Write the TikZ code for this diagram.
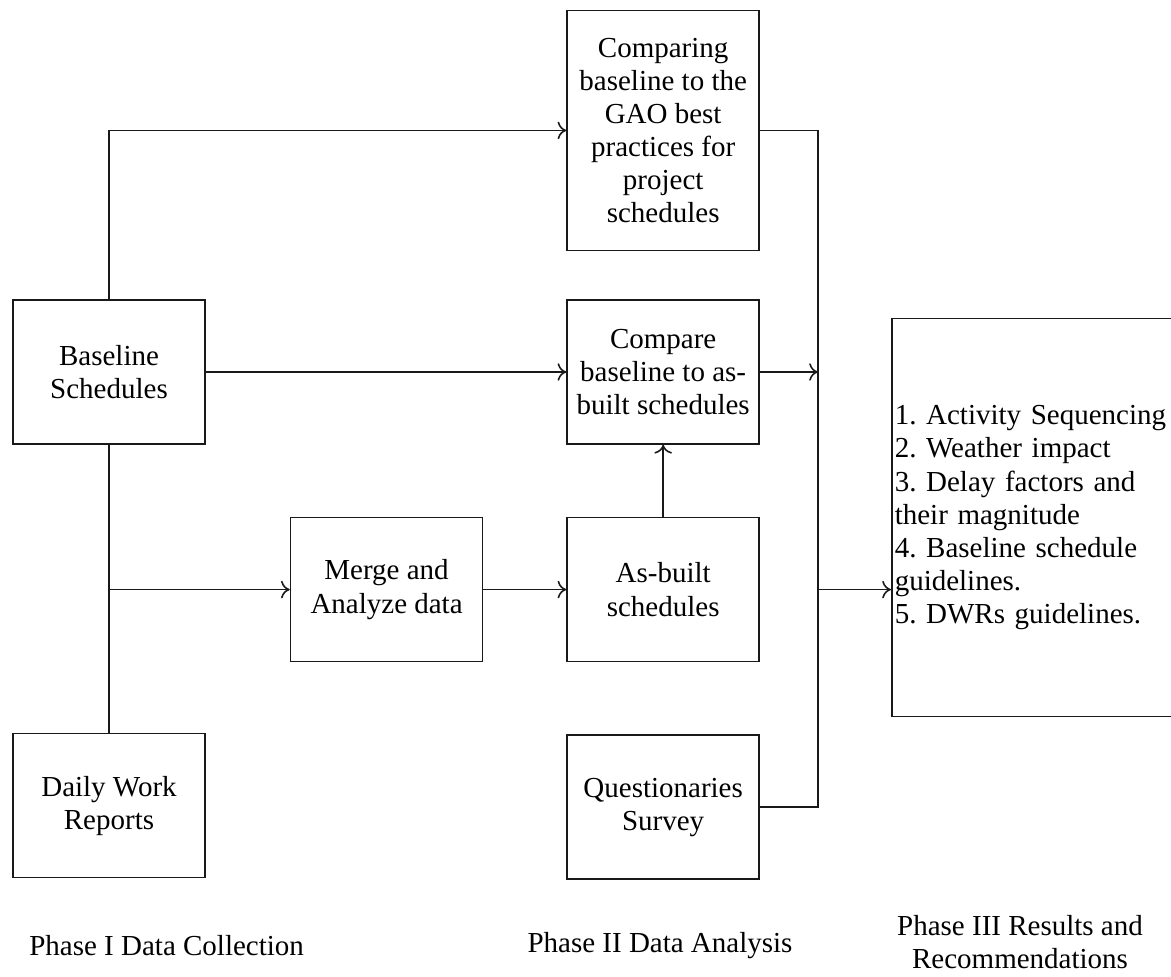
\documentclass[tikz,border=0pt]{standalone}
\usepackage{fontspec}
\setmainfont{Liberation Serif}
\usetikzlibrary{arrows.meta, positioning, calc}
\frenchspacing
\tikzset{
    stage/.style={
        rectangle, draw=black!90, line width=0.9pt,
        minimum width=3.84cm, minimum height=2.88cm,
        font=\fontsize{16.5}{18.8}\selectfont, align=center, inner sep=2pt
    },
    listbox/.style={
        rectangle, draw=black!90, line width=0.9pt,
        minimum width=5.76cm, minimum height=7.96cm,
        text width=5.64cm, inner sep=0.06cm,
        font=\fontsize{16.5}{18.8}\selectfont, align=left
    },
    phaselabel/.style={font=\fontsize{16.5}{18.8}\selectfont, align=center, inner sep=0pt},
    arrow/.style={-{To[length=5pt, width=10pt]}, line width=0.9pt, draw=black!90},
    link/.style={line width=0.9pt, draw=black!90}
}
\begin{document}
\begin{tikzpicture}
    \useasboundingbox (-2.18,7.44) rectangle (21.24,-12.08);

    % phase I
    \node[stage] (base) at (0,0) {Baseline\\Schedules};
    \node[stage, below=5.76cm of base] (daily) {Daily Work\\Reports};
    \node[stage, below right=1.44cm and 1.68cm of base] (merge) {Merge and\\Analyze data};

    % phase II
    \node[stage, right=1.66cm of merge] (asbuilt) {As-built\\schedules};
    \node[stage, above=1.44cm of asbuilt] (compare) {Compare\\baseline to as-\\built schedules};
    \node[stage, above=0.96cm of compare, minimum height=4.8cm] (gao) {Comparing\\baseline to the\\GAO best\\practices for\\project\\schedules};
    \node[stage, below=1.44cm of asbuilt] (survey) {Questionaries\\Survey};

    % phase III
    \node[listbox, right=2.62cm of asbuilt, yshift=1.44cm] (results) {1. Activity Sequencing\\2. Weather impact\\3. Delay factors and\\their magnitude\\4. Baseline schedule\\guidelines.\\5. DWRs guidelines.};

    \coordinate (split) at (base.south |- merge.west);
    \coordinate (bus) at ($(gao.east)+(1.16,0)$);

    \draw[arrow] (base.north) |- (gao.west);
    \draw[arrow] (base.east) -- (compare.west);
    \draw[link] (base.south) -- (daily.north);
    \draw[arrow] (split) -- (merge.west);
    \draw[arrow] (merge.east) -- (asbuilt.west);
    \draw[arrow] (asbuilt.north) -- (compare.south);
    \draw[link] (gao.east) -- (bus) |- (survey.east);
    \draw[arrow] (compare.east) -- (compare.east -| bus);
    \draw[arrow] (bus |- asbuilt.east) -- (results.west |- asbuilt.east);

    \node[phaselabel, anchor=west] (phase1) at (-1.6,-11.48) {Phase I Data Collection};
    \node[phaselabel] (phase2) at (11.02,-11.48) {Phase II Data Analysis};
    \node[phaselabel] (phase3) at (18.22,-11.4) {Phase III Results and\\Recommendations};
\end{tikzpicture}
\end{document}
